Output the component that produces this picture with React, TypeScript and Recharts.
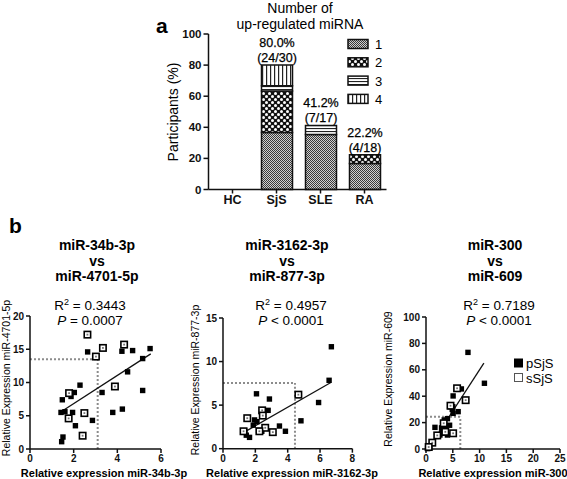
import React from 'react'
import {
  BarChart,
  Bar,
  XAxis,
  YAxis,
  LabelList,
  ScatterChart,
  Scatter,
  ReferenceLine,
} from 'recharts'

const FONT = '"Liberation Sans", Arial, Helvetica, sans-serif'

// panel a - participants with up-regulated miRNA, stacked by number of miRNA
const groups = ['HC', 'SjS', 'SLE', 'RA']
const oneMiRNA = [0, 36.7, 35.3, 16.7]
const twoMiRNA = [0, 26.7, 0, 5.6]
const threeMiRNA = [0, 3.3, 5.9, 0]
const fourMiRNA = [0, 13.3, 0, 0]
const pctLabels = ['', '80.0%', '41.2%', '22.2%']
const countLabels = ['', '(24/30)', '(7/17)', '(4/18)']
const stackNames = ['1', '2', '3', '4']
const percentTicks = [0, 20, 40, 60, 80, 100]

// panel b - scatter 1: miR-34b-3p vs miR-4701-5p
const p1FilledX = [2.64, 4.21, 4.7, 5.5, 5.16, 4.47, 5.16, 3.3, 2.29, 2.03, 1.88, 1.48, 1.42, 1.6, 1.95, 2.86, 2.08, 3.79, 4.23, 1.51, 1.45]
const p1FilledY = [14.6, 14.7, 14.8, 15.1, 13.6, 11.6, 8.8, 8.5, 9.6, 8.5, 7.9, 7.4, 5.5, 5.6, 5.5, 4.3, 3.5, 5.5, 6.0, 1.8, 1.1]
const p1OpenX = [2.63, 3.34, 3.02, 4.31, 3.89, 1.79, 2.49, 1.77, 2.41]
const p1OpenY = [17.2, 15.2, 13.9, 15.7, 9.4, 8.4, 5.4, 4.6, 2.0]
const p1Fit = [[1.37, 5.5], [5.53, 14.3]]
const p1Cut = [3.1, 13.5]

// scatter 2: miR-3162-3p vs miR-877-3p
const p2FilledX = [6.7, 6.56, 5.91, 4.82, 2.07, 2.87, 2.79, 1.95, 2.1, 3.49, 3.86, 1.44, 1.64, 1.87, 2.2, 2.4, 1.35]
const p2FilledY = [11.7, 7.85, 5.3, 3.2, 6.3, 5.7, 4.4, 3.3, 3.1, 2.6, 2.0, 1.55, 1.3, 2.7, 2.1, 2.0, 2.0]
const p2OpenX = [4.66, 2.42, 2.46, 1.5, 2.61, 3.08, 1.27, 2.25]
const p2OpenY = [6.2, 4.4, 3.8, 3.5, 2.4, 1.9, 2.0, 2.0]
const p2Fit = [[1.34, 1.93], [6.67, 7.6]]
const p2Cut = [4.45, 7.55]

// scatter 3: miR-300 vs miR-609
const p3FilledX = [7.83, 10.9, 6.6, 5.06, 5.0, 6.0, 4.9, 5.06, 3.4, 4.0, 1.67, 2.9, 3.7, 2.6, 2.3, 4.0, 3.2, 0.6, 0.3, 0.7, 2.0, 3.0, 4.4, 4.5]
const p3FilledY = [73.2, 49.8, 45.5, 40.2, 32, 28.3, 30, 27, 22, 23, 16.4, 16, 16.4, 10.6, 10, 10.6, 14.4, 1.3, 0.3, 0.8, 9.5, 12, 18, 32]
const p3OpenX = [5.8, 7.4, 4.57, 5.06, 3.3, 1.17, 2.1, 3.6, 0.5]
const p3OpenY = [46, 37, 32.8, 11.9, 19.5, 4.8, 10.3, 13, 1.5]
const p3Fit = [[0.4, 0], [10.8, 65]]
const p3Cut = [6.4, 24.5]

const seriesKeys = ['s1', 's2', 's3', 's4']
const stacks = [oneMiRNA, twoMiRNA, threeMiRNA, fourMiRNA]

// label goes on the top non-empty segment of each bar
const barData = groups.map((g, i) => {
  const row: any = { group: g }
  let top = -1
  stacks.forEach((s, k) => {
    row[seriesKeys[k]] = s[i]
    if (s[i] > 0) top = k
  })
  seriesKeys.forEach((k, j) => {
    row['lab' + k] = j === top && pctLabels[i] ? pctLabels[i] + '|' + countLabels[i] : ''
  })
  return row
})

const zip = (xs: number[], ys: number[]) => xs.map((x, i) => ({ x, y: ys[i] }))

const FilledSquare = (props: any) => (
  <rect x={props.cx - 2.7} y={props.cy - 2.7} width={5.4} height={5.4} fill="#000" />
)

const OpenSquare = (props: any) => (
  <g>
    <rect x={props.cx - 3.2} y={props.cy - 3.2} width={6.4} height={6.4} fill="#fff" stroke="#000" strokeWidth={1.6} />
    <rect x={props.cx - 0.9} y={props.cy - 0.9} width={1.8} height={1.8} fill="#777" />
  </g>
)

const TopLabel = (props: any) => {
  const v = props.value
  if (!v) return null
  const vb = props.viewBox || props
  const x = vb.x ?? props.x
  const y = vb.y ?? props.y
  const w = vb.width ?? props.width
  const [pct, cnt] = String(v).split('|')
  const cx = x + w / 2
  return (
    <g fontFamily={FONT} fontSize={12.5} textAnchor="middle">
      <text x={cx} y={y - 18} fill="#000" stroke="#000" strokeWidth={0.25}>{pct}</text>
      <text x={cx} y={y - 3} fill="#000" stroke="#000" strokeWidth={0.25}>{cnt}</text>
    </g>
  )
}

const axisStyle = { stroke: '#111', strokeWidth: 1.5 }

type PanelProps = {
  plotLeft: number
  plotTop: number
  plotW: number
  plotH: number
  xMax: number
  xTicks: number[]
  yMax: number
  yTicks: number[]
  filled: { x: number; y: number }[]
  open: { x: number; y: number }[]
  fit: number[][]
  cut: number[]
}

function ScatterPanel(p: PanelProps) {
  const yw = 30
  const mTop = 10
  const xh = 22
  const tick = { fill: '#111', fontSize: 10, fontWeight: 700, fontFamily: FONT }
  return (
    <div style={{ position: 'absolute', left: p.plotLeft - yw, top: p.plotTop - mTop }}>
      <ScatterChart
        width={yw + p.plotW + 8}
        height={mTop + p.plotH + xh}
        margin={{ top: mTop, right: 8, bottom: 0, left: 0 }}
      >
        <XAxis
          type="number"
          dataKey="x"
          domain={[0, p.xMax]}
          ticks={p.xTicks}
          height={xh}
          tickSize={4}
          axisLine={axisStyle}
          tickLine={axisStyle}
          tick={tick}
        />
        <YAxis
          type="number"
          dataKey="y"
          domain={[0, p.yMax]}
          ticks={p.yTicks}
          width={yw}
          tickSize={4}
          axisLine={axisStyle}
          tickLine={axisStyle}
          tick={tick}
        />
        <ReferenceLine
          segment={[{ x: 0, y: p.cut[1] }, { x: p.cut[0], y: p.cut[1] }]}
          stroke="#8c8c8c"
          strokeWidth={2}
          strokeDasharray="2 2"
        />
        <ReferenceLine
          segment={[{ x: p.cut[0], y: 0 }, { x: p.cut[0], y: p.cut[1] }]}
          stroke="#8c8c8c"
          strokeWidth={2}
          strokeDasharray="2 2"
        />
        <Scatter data={p.filled} shape={FilledSquare} isAnimationActive={false} />
        <Scatter data={p.open} shape={OpenSquare} isAnimationActive={false} />
        <ReferenceLine
          segment={[{ x: p.fit[0][0], y: p.fit[0][1] }, { x: p.fit[1][0], y: p.fit[1][1] }]}
          stroke="#111"
          strokeWidth={1.3}
        />
      </ScatterChart>
    </div>
  )
}

const Title = ({ cx, lines, r2, p, op }: { cx: number; lines: string[]; r2: string; p: string; op: string }) => {
  const tx = cx + (cx < 150 ? -7 : 4)
  return (
    <g textAnchor="middle" fill="#000">
      {lines.map((l, i) => (
        <text key={l} x={cx} y={250 + i * 15.5} fontSize={14} fontWeight={700}>{l}</text>
      ))}
      <text x={tx} y={310} fontSize={13.5}>
        R<tspan fontSize={9} dy={-5}>2</tspan><tspan dy={5}>{' = ' + r2}</tspan>
      </text>
      <text x={tx} y={324.5} fontSize={13.5}>
        <tspan fontStyle="italic">P</tspan>{` ${op} ${p}`}
      </text>
    </g>
  )
}

export default function App() {
  const fills = ['url(#pat1)', 'url(#pat2)', 'url(#pat3)', 'url(#pat4)']
  return (
    <div style={{ position: 'absolute', left: 0, top: 0, width: 567, height: 479, background: '#fff', fontFamily: FONT, overflow: 'hidden' }}>
      <svg width={0} height={0} style={{ position: 'absolute' }}>
        <defs>
          <pattern id="pat1" width="2" height="2" patternUnits="userSpaceOnUse">
            <rect width="2" height="2" fill="#d0d0d0" />
            <rect width="1" height="1" fill="#3a3a3a" />
            <rect x="1" y="1" width="1" height="1" fill="#3a3a3a" />
          </pattern>
          <pattern id="pat2" width="6" height="6" patternUnits="userSpaceOnUse">
            <rect width="6" height="6" fill="#111" />
            <circle cx="1.5" cy="1.5" r="1.5" fill="#fff" />
            <circle cx="4.5" cy="4.5" r="1.5" fill="#fff" />
          </pattern>
          <pattern id="pat3" width="4" height="3" patternUnits="userSpaceOnUse">
            <rect width="4" height="3" fill="#fff" />
            <rect width="4" height="1.1" fill="#222" />
          </pattern>
          <pattern id="pat4" width="4" height="4" patternUnits="userSpaceOnUse">
            <rect width="4" height="4" fill="#fff" />
            <rect width="1.2" height="4" fill="#222" />
          </pattern>
        </defs>
      </svg>

      {/* panel a */}
      <div style={{ position: 'absolute', left: 130, top: 20 }}>
        <BarChart
          width={270}
          height={200}
          data={barData}
          margin={{ top: 14, right: 13.5, bottom: 10.5, left: 38.5 }}
          barSize={31}
        >
          <XAxis
            dataKey="group"
            height={20}
            tickSize={4}
            padding={{ left: 2, right: 0 }}
            axisLine={axisStyle}
            tickLine={axisStyle}
            tick={{ fill: '#111', fontSize: 12.5, fontWeight: 700, fontFamily: FONT }}
          />
          <YAxis
            domain={[0, 100]}
            ticks={percentTicks}
            width={40}
            tickSize={5}
            axisLine={axisStyle}
            tickLine={axisStyle}
            tick={{ fill: '#111', fontSize: 11.5, fontWeight: 700, fontFamily: FONT }}
          />
          {seriesKeys.map((k, i) => (
            <Bar key={k} dataKey={k} stackId="a" fill={fills[i]} stroke="#111" strokeWidth={1.5} isAnimationActive={false}>
              <LabelList dataKey={'lab' + k} content={TopLabel} />
            </Bar>
          ))}
        </BarChart>
      </div>

      <ScatterPanel
        plotLeft={30} plotTop={316} plotW={131} plotH={133}
        xMax={6} xTicks={[0, 2, 4, 6]} yMax={20} yTicks={[0, 5, 10, 15, 20]}
        filled={zip(p1FilledX, p1FilledY)} open={zip(p1OpenX, p1OpenY)} fit={p1Fit} cut={p1Cut}
      />
      <ScatterPanel
        plotLeft={223.3} plotTop={318.3} plotW={129.4} plotH={130.7}
        xMax={8} xTicks={[0, 2, 4, 6, 8]} yMax={15} yTicks={[0, 5, 10, 15]}
        filled={zip(p2FilledX, p2FilledY)} open={zip(p2OpenX, p2OpenY)} fit={p2Fit} cut={p2Cut}
      />
      <ScatterPanel
        plotLeft={426} plotTop={317} plotW={134} plotH={132}
        xMax={25} xTicks={[0, 5, 10, 15, 20, 25]} yMax={100} yTicks={[0, 20, 40, 60, 80, 100]}
        filled={zip(p3FilledX, p3FilledY)} open={zip(p3OpenX, p3OpenY)} fit={p3Fit} cut={p3Cut}
      />

      {/* text overlay */}
      <svg width={567} height={479} style={{ position: 'absolute', left: 0, top: 0, pointerEvents: 'none' }} fontFamily={FONT}>
        <text x={156} y={33} fontSize={21} fontWeight={700} fill="#000">a</text>
        <text x={9} y={233} fontSize={21} fontWeight={700} fill="#000">b</text>
        <text x={300} y={12.5} fontSize={14} textAnchor="middle" fill="#000">Number of</text>
        <text x={300} y={28.5} fontSize={14} textAnchor="middle" fill="#000">up-regulated miRNA</text>
        <text x={173} y={112} fontSize={14} textAnchor="middle" dominantBaseline="central" transform="rotate(-90 173 112)" fill="#000">
          Participants (%)
        </text>
        {stackNames.map((n, i) => (
          <g key={n}>
            <rect x={348} y={39.5 + i * 18.3} width={20} height={9} fill={fills[i]} stroke="#111" strokeWidth={1.5} />
            <text x={375} y={49 + i * 18.3} fontSize={13} fill="#000">{n}</text>
          </g>
        ))}

        <Title cx={97} lines={['miR-34b-3p', 'vs', 'miR-4701-5p']} r2="0.3443" op="=" p="0.0007" />
        <Title cx={287} lines={['miR-3162-3p', 'vs', 'miR-877-3p']} r2="0.4957" op="<" p="0.0001" />
        <Title cx={495} lines={['miR-300', 'vs', 'miR-609']} r2="0.7189" op="<" p="0.0001" />

        <g fontSize={11} fontWeight={700} textAnchor="middle" fill="#000">
          <text x={104} y={477}>Relative expression miR-34b-3p</text>
          <text x={292} y={477}>Relative expression miR-3162-3p</text>
          <text x={493} y={477}>Relative expression miR-300</text>
        </g>
        <g fontSize={10.5} textAnchor="middle" fill="#000" dominantBaseline="central">
          <text x={6} y={378} transform="rotate(-90 6 378)">Relative Expression miR-4701-5p</text>
          <text x={195} y={380} transform="rotate(-90 195 380)">Relative Expression miR-877-3p</text>
          <text x={388} y={379} transform="rotate(-90 388 379)">Relative Expression miR-609</text>
        </g>

        <rect x={514} y={358.5} width={9} height={9} fill="#000" />
        <text x={526} y={368} fontSize={13} fill="#000">pSjS</text>
        <rect x={514.5} y={373.5} width={8} height={8} fill="#fff" stroke="#555" strokeWidth={1} />
        <text x={526} y={382.5} fontSize={13} fill="#000">sSjS</text>
      </svg>
    </div>
  )
}
